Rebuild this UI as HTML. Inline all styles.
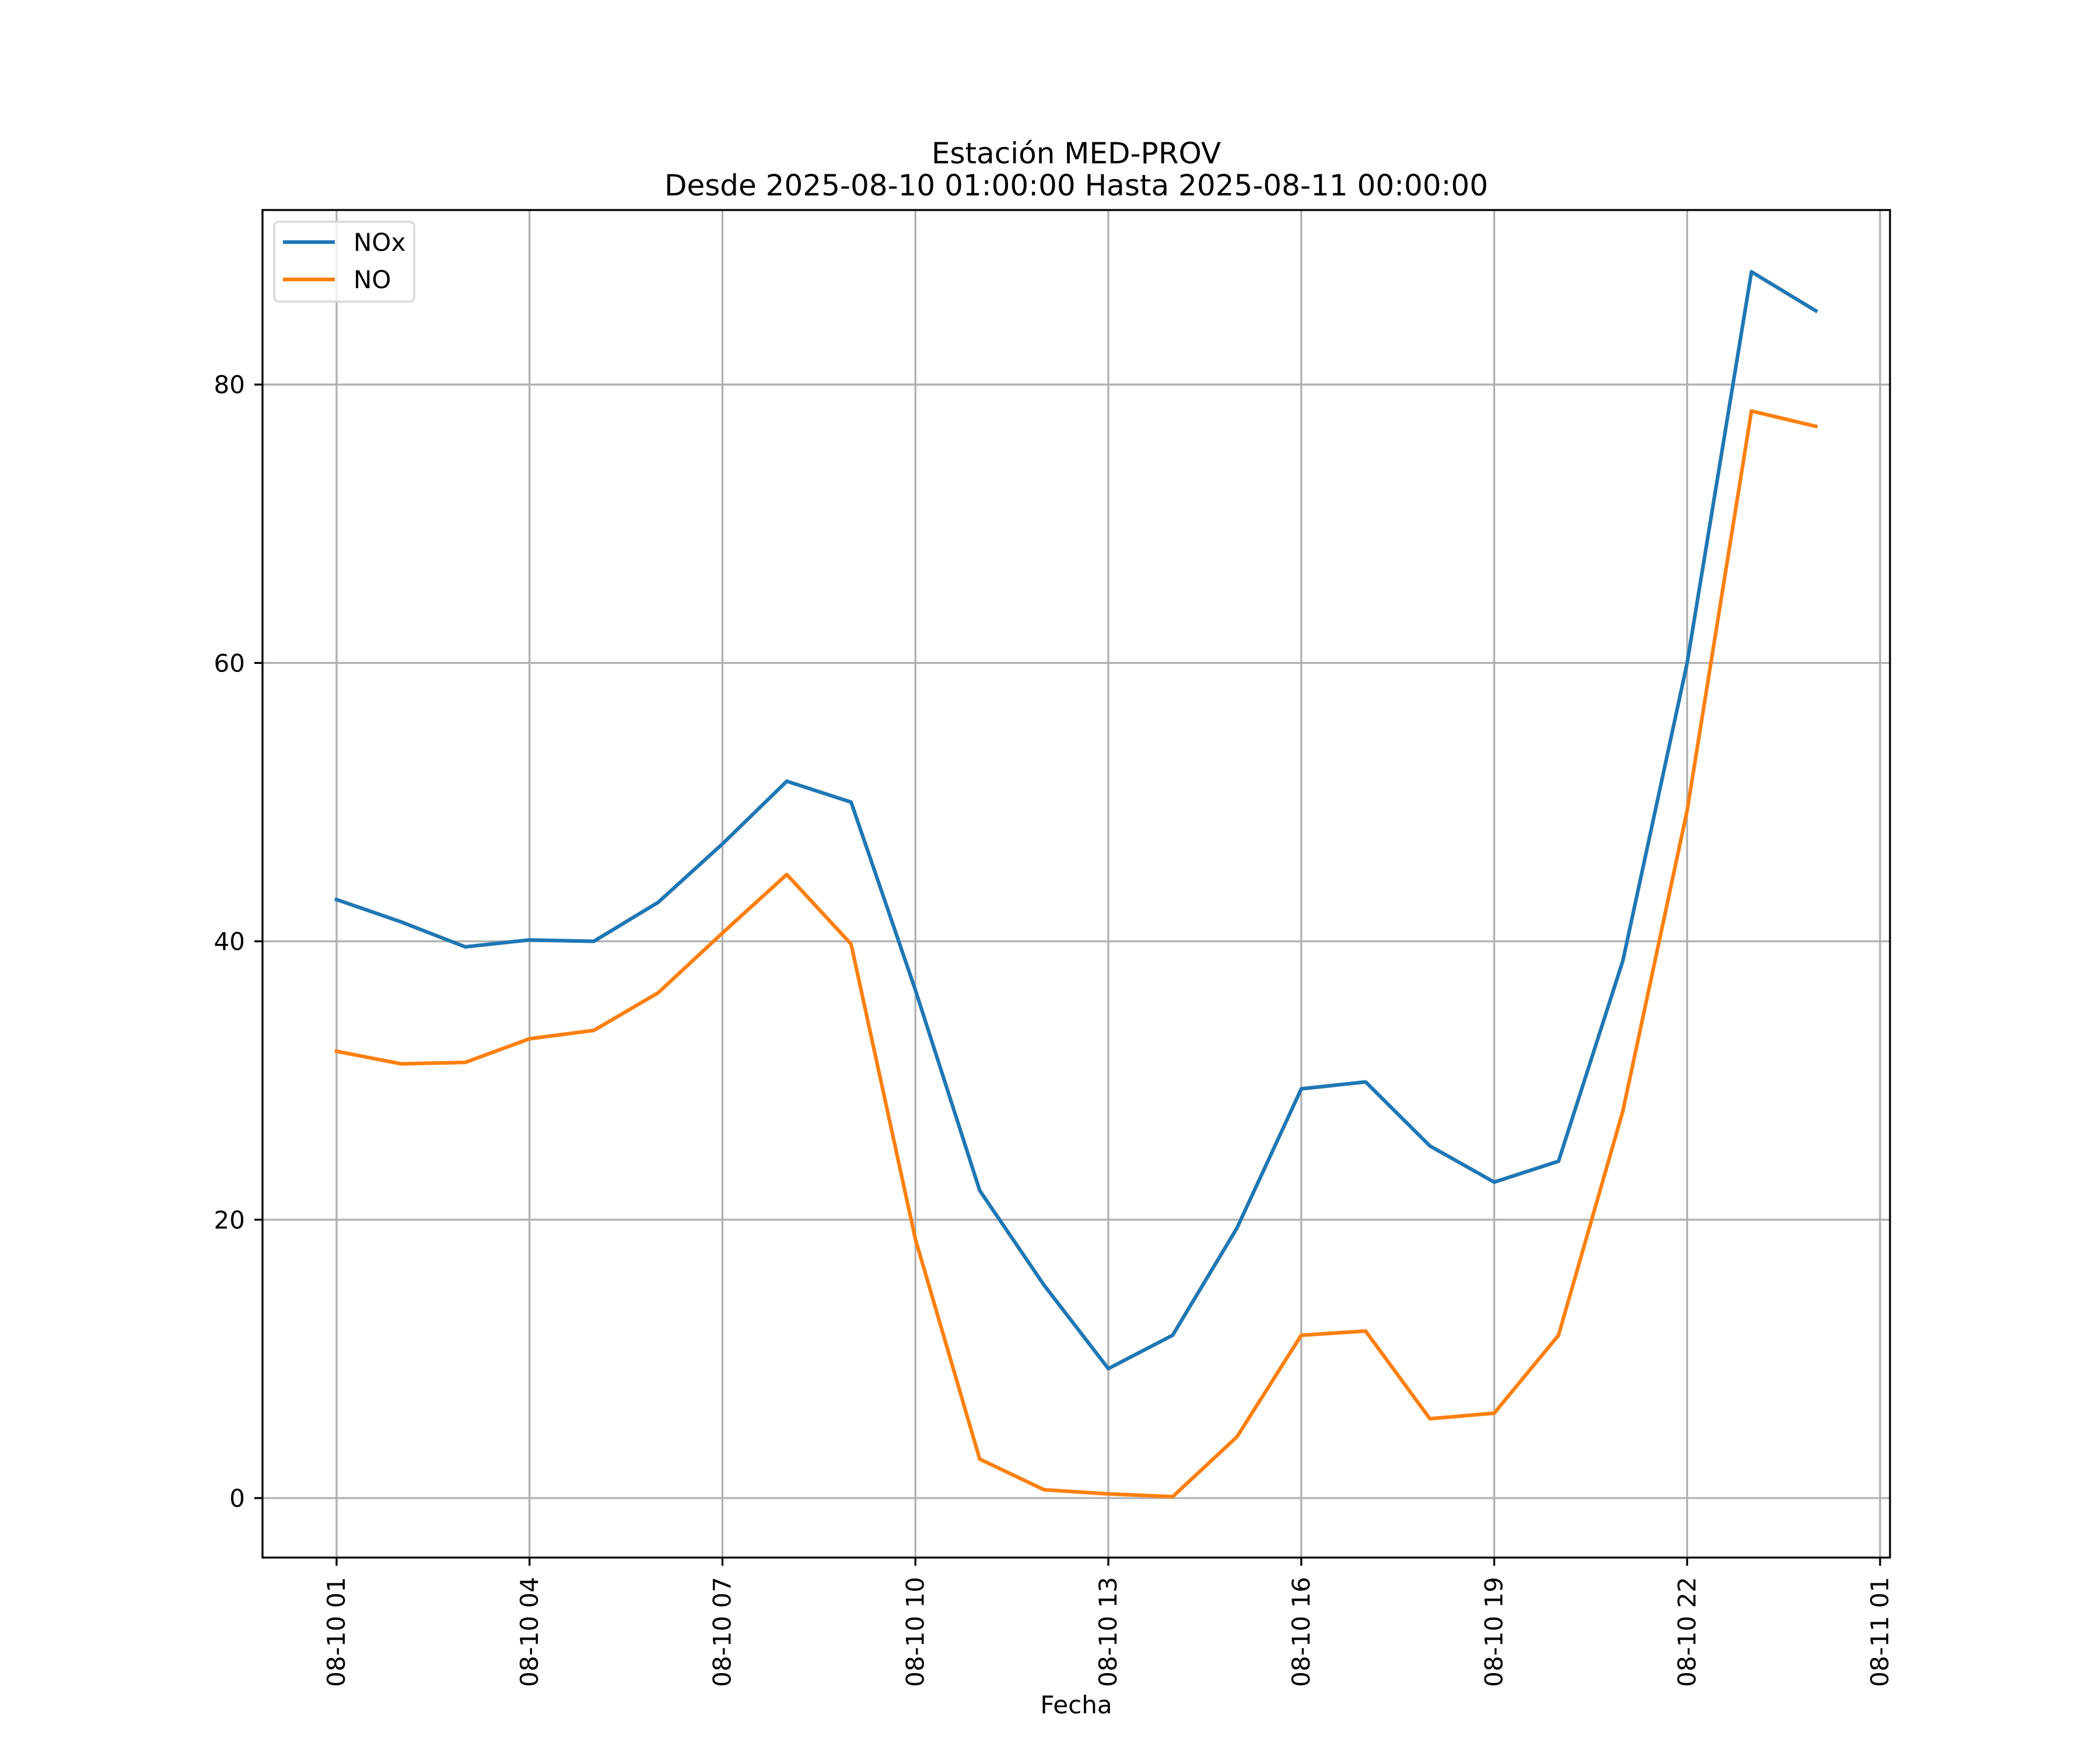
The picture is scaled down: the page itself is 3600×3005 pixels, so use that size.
<!DOCTYPE html>
<html><head><meta charset="utf-8"><style>
html,body{margin:0;padding:0;background:#fff;}
svg text{font-family:"DejaVu Sans","Liberation Sans",sans-serif;fill:#000;}
</style></head><body>
<svg id="chart" width="3600" height="3000" viewBox="0 0 3600 3000" xmlns="http://www.w3.org/2000/svg">
<rect width="3600" height="3000" fill="#fff"/>
<text x="1845" y="280" font-size="50" text-anchor="middle">Estación MED-PROV</text>
<text x="1845" y="335" font-size="50" text-anchor="middle">Desde 2025-08-10 01:00:00 Hasta 2025-08-11 00:00:00</text>
<g id="grid"></g>
<g id="series"></g>
<rect x="450" y="360" width="2790" height="2310" fill="none" stroke="#000" stroke-width="3.3"/>
<g id="ticks"></g>
<text x="1845" y="2937" font-size="42" text-anchor="middle">Fecha</text>
<g>
<rect x="470" y="380" width="240" height="137" rx="8" fill="#fff" fill-opacity="0.8" stroke="#d6d6d6" stroke-width="3.3"/>
<line x1="485" y1="415" x2="574" y2="415" stroke="#1f77b4" stroke-width="6.25"/>
<text x="606" y="430" font-size="42">NOx</text>
<line x1="485" y1="479" x2="574" y2="479" stroke="#ff7f0e" stroke-width="6.25"/>
<text x="606" y="494" font-size="42">NO</text>
</g>
</svg>
<script>
const hours = [1,2,3,4,5,6,7,8,9,10,11,12,13,14,15,16,17,18,19,20,21,22,23,24];
const noxValues = [43.0,41.4,39.6,40.1,40.0,42.8,47.0,51.5,50.0,36.5,22.1,15.3,9.3,11.7,19.4,29.4,29.9,25.3,22.7,24.2,38.6,60.0,88.1,85.3];
const noValues = [32.1,31.2,31.3,33.0,33.6,36.3,40.6,44.8,39.8,18.6,2.8,0.6,0.3,0.1,4.4,11.7,12.0,5.7,6.1,11.7,27.8,49.4,78.1,77.0];
const xTickHours = [1,4,7,10,13,16,19,22,25];
const xTickLabels = ["08-10 01","08-10 04","08-10 07","08-10 10","08-10 13","08-10 16","08-10 19","08-10 22","08-11 01"];
const yTicks = [0,20,40,60,80];

const NS="http://www.w3.org/2000/svg";
function xs(h){return 577+(h-1)*110.25;}
function ys(v){return 2568-v*23.86;}
function mk(tag,attrs,parent){const e=document.createElementNS(NS,tag);for(const k in attrs)e.setAttribute(k,attrs[k]);parent.appendChild(e);return e;}
const grid=document.getElementById('grid'),ticks=document.getElementById('ticks'),series=document.getElementById('series');

xTickHours.forEach((h,i)=>{
  const x=xs(h);
  const g=mk('line',{x1:x,y1:360,x2:x,y2:2670,stroke:'#b0b0b0','stroke-width':3.3},grid);
  
  
  const t=mk('line',{x1:x,y1:2670,x2:x,y2:2684,stroke:'#000','stroke-width':3.3},ticks);
  
  
  const l=mk('text',{transform:`translate(${x+14},2703) rotate(-90)`,'font-size':42,'text-anchor':'end'},ticks);
  l.textContent=xTickLabels[i];
  
  
});
yTicks.forEach(v=>{
  const y=ys(v);
  const g=mk('line',{x1:450,y1:y,x2:3240,y2:y,stroke:'#b0b0b0','stroke-width':3.3},grid);
  
  
  const t=mk('line',{x1:436,y1:y,x2:450,y2:y,stroke:'#000','stroke-width':3.3},ticks);
  
  
  const l=mk('text',{x:420,y:y+15,'font-size':42,'text-anchor':'end'},ticks);
  l.textContent=String(v);
  
  
});
function drawLine(vals,color,name){
  const pts=vals.map((v,i)=>xs(hours[i])+','+ys(v)).join(' ');
  const p=mk('polyline',{points:pts,fill:'none',stroke:color,'stroke-width':6.25,'stroke-linejoin':'round','stroke-linecap':'square'},series);
  
  
}
drawLine(noxValues,'#1f77b4','nox-line');
drawLine(noValues,'#ff7f0e','no-line');
</script>
</body></html>
